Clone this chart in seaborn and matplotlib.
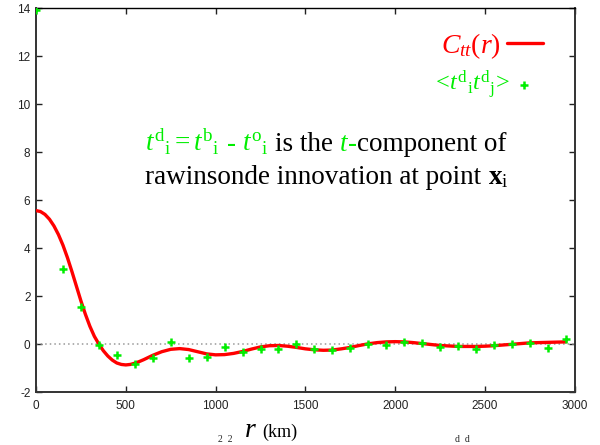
import numpy as np
import pandas as pd
import seaborn as sns
import matplotlib.pyplot as plt

# fitted correlation model C_tt(r)
curve_r = [0, 25, 50, 75, 100, 125, 150, 175, 200, 225, 250, 275, 300, 325,
           350, 375, 400, 425, 450, 475, 500, 525, 550, 575, 600, 650,
           700, 750, 800, 850, 900, 950, 1000, 1050, 1100, 1150, 1200, 1250,
           1300, 1350, 1400, 1450, 1500, 1550, 1600, 1650, 1700, 1750, 1800,
           1850, 1900, 1950, 2000, 2050, 2100, 2150, 2200, 2250, 2300, 2350,
           2400, 2450, 2500, 2550, 2600, 2650, 2700, 2750, 2800, 2850, 2900, 2950]
curve_c = [5.56, 5.52, 5.40, 5.20, 4.92, 4.56, 4.12, 3.60, 3.02, 2.41, 1.80,
           1.24, 0.74, 0.32, 0.00, -0.28, -0.50, -0.67, -0.79, -0.85, -0.87,
           -0.85, -0.80, -0.73, -0.65, -0.47, -0.32, -0.22, -0.19, -0.23, -0.32,
           -0.41, -0.45, -0.44, -0.39, -0.31, -0.21, -0.12, -0.07, -0.06, -0.09,
           -0.14, -0.20, -0.24, -0.26, -0.25, -0.20, -0.14, -0.06, 0.01, 0.06,
           0.09, 0.10, 0.09, 0.06, 0.02, -0.02, -0.06, -0.08, -0.10, -0.10,
           -0.10, -0.09, -0.07, -0.04, -0.01, 0.02, 0.05, 0.06, 0.07, 0.08, 0.09]

# binned innovation covariances <t^d_i t^d_j>
obs_r = [0, 150, 250, 350, 450, 550, 650, 750, 850, 950, 1050, 1150, 1250, 1350,
         1450, 1550, 1650, 1750, 1850, 1950, 2050, 2150, 2250, 2350, 2450, 2550,
         2650, 2750, 2850, 2950]
obs_c = [13.9, 3.14, 1.56, -0.06, -0.46, -0.85, -0.60, 0.10, -0.57, -0.55, -0.12,
         -0.33, -0.22, -0.21, -0.01, -0.22, -0.25, -0.18, 0.00, -0.03, 0.10, 0.06,
         -0.11, -0.08, -0.19, -0.04, 0.01, 0.04, -0.15, 0.21]

x_ticks = [0, 500, 1000, 1500, 2000, 2500, 3000]
y_ticks = [-2, 0, 2, 4, 6, 8, 10, 12, 14]

RED = "#ff0000"
GREEN = "#00ee00"
SERIF = "Liberation Serif"

sns.set_theme(style="ticks")
plt.rcParams["font.family"] = ["Liberation Sans", "DejaVu Sans"]
plt.rcParams["axes.unicode_minus"] = False
plt.rcParams["mathtext.fontset"] = "custom"
plt.rcParams["mathtext.rm"] = "Liberation Serif"
plt.rcParams["mathtext.it"] = "Liberation Serif:italic"
plt.rcParams["mathtext.bf"] = "Liberation Serif:bold"

fig = plt.figure(figsize=(6, 4.45), dpi=100)
ax = fig.add_axes([0.06, 0.119, 0.898, 0.863])

ax.axhline(0, color="#999999", lw=1.1, ls=(0, (1, 2)), zorder=1)
curve = pd.DataFrame({"r": curve_r, "c": curve_c})
obs = pd.DataFrame({"r": obs_r, "c": obs_c})
sns.lineplot(data=curve, x="r", y="c", color=RED, lw=2.4, sort=False,
             estimator=None, ax=ax, label=r"$C_{tt}(r)$", zorder=3)
sns.scatterplot(data=obs, x="r", y="c", marker="+", color=GREEN, s=36,
                linewidth=1.8, ax=ax, zorder=4,
                label=r"$<\!t^{\mathrm{d}}{}_{\mathrm{i}}t^{\mathrm{d}}{}_{\mathrm{j}}\!>$")

ax.set_xlim(0, 3000)
ax.set_ylim(-2, 14)
ax.set_xticks(x_ticks)
ax.set_yticks(y_ticks)
ax.set_xlabel("")
ax.set_ylabel("")
ax.tick_params(direction="in", top=True, right=True, length=4, width=1,
               labelsize=8.5, colors="#222222")
ax.tick_params(axis="x", pad=6)
ax.tick_params(axis="y", pad=4)
for s in ax.spines.values():
    s.set_linewidth(1.4)
    s.set_color("#333333")
ax.spines["top"].set_linewidth(1.0)
ax.spines["top"].set_color("black")

# two single-entry keys so each row keeps its own handle width
handles, labels = ax.get_legend_handles_labels()
leg1 = ax.legend(handles[:1], labels[:1], loc="upper right",
                 bbox_to_anchor=(0.9406, 0.94), frameon=False,
                 markerfirst=False, fontsize=20, handlelength=1.3,
                 handletextpad=0.2, borderaxespad=0, borderpad=0,
                 labelcolor=RED)
ax.add_artist(leg1)
leg2 = ax.legend(handles[1:], labels[1:], loc="upper right",
                 bbox_to_anchor=(0.920, 0.841), frameon=False,
                 markerfirst=False, fontsize=17.5, handlelength=0.6,
                 handletextpad=0.3, borderaxespad=0, borderpad=0,
                 labelcolor=GREEN, scatterpoints=1)

# text built from coloured pieces placed one after another on a baseline
renderer = fig.canvas.get_renderer()


def put_pieces(x0, y0, pieces, size):
    x = x0
    sp = 0.25 * size / 72 * fig.dpi / (fig.get_figwidth() * fig.dpi)
    for txt, col, style, gap in pieces:
        t = fig.text(x, y0, txt, color=col, fontsize=size, family=SERIF,
                     style=style, ha="left", va="baseline")
        bb = t.get_window_extent(renderer)
        x = fig.transFigure.inverted().transform((bb.x1, bb.y0))[0] + gap * sp


line1 = [
    (r"$t^{\mathrm{d}}{}_{\mathrm{i}} = t^{\mathrm{b}}{}_{\mathrm{i}}$", GREEN, "normal", 1),
    ("-", GREEN, "normal", 1),
    (r"$t^{\mathrm{o}}{}_{\mathrm{i}}$", GREEN, "normal", 1),
    ("is the", "black", "normal", 1),
    ("t", GREEN, "italic", 0),
    ("-", GREEN, "normal", 0),
    ("component of", "black", "normal", 0),
]
line2 = [
    ("rawinsonde innovation at point", "black", "normal", 1),
    (r"$\mathbf{x}_{\mathrm{i}}$", "black", "normal", 0),
]
put_pieces(145 / 600, 1 - 151 / 445, line1, 19.5)
put_pieces(145 / 600, 1 - 184 / 445, line2, 19.5)

# axis label: large italic r with smaller unit
put_pieces(245 / 600, 1 - 437 / 445,
           [("r", "black", "italic", 0.6)], 20)
put_pieces(262 / 600, 1 - 437 / 445,
           [("(km)", "black", "normal", 0)], 13)

# superscripts of the caption line below, at the picture's lower edge
fig.text(218 / 600, 0.5 / 445, "2  2", fontsize=7, family=SERIF, va="bottom")
fig.text(455 / 600, 0.5 / 445, "d  d", fontsize=7, family=SERIF, va="bottom")

fig.savefig("out.png", dpi=100)
